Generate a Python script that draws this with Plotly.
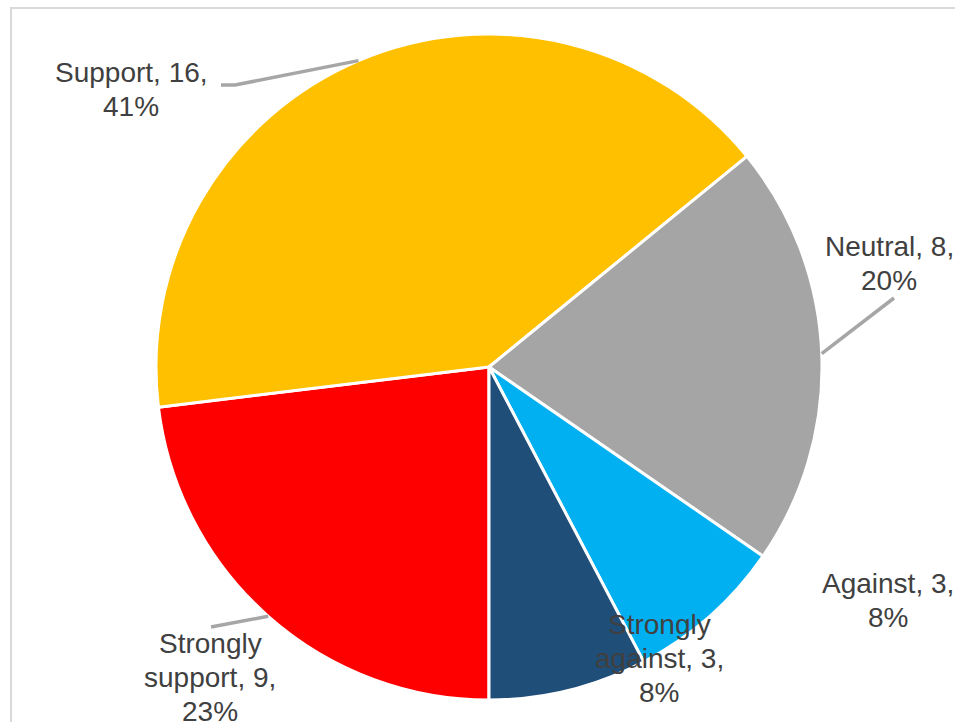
import math
import plotly.graph_objects as go

# Survey responses, drawn clockwise from the 6 o'clock position
categories = ["Strongly support", "Support", "Neutral", "Against", "Strongly against"]
counts = [9, 16, 8, 3, 3]
colors = ["#FF0000", "#FFC000", "#A5A5A5", "#00B0F0", "#1F4E79"]

W, H = 955, 722
CX, CY, R = 489, 367, 333          # pie centre and radius in pixels
START_DEG = 180                    # first slice starts at the bottom
LINE_GAP = 34                      # pixel distance between label lines
FONT = dict(family="Liberation Sans, Arial, sans-serif", size=28, color="#404040")

# Whole-number percentages that add up to 100 (largest remainder)
total = sum(counts)
raw = [c / total * 100 for c in counts]
pcts = [math.floor(v) for v in raw]
order = sorted(range(len(raw)), key=lambda i: raw[i] - pcts[i], reverse=True)
for i in order[: 100 - sum(pcts)]:
    pcts[i] += 1

# Label placement (pixel centres) and optional leader-line waypoints
label_pos = {
    "Strongly support": (210, 677),
    "Support": (131, 89),
    "Neutral": (889, 263),
    "Against": (888, 600),
    "Strongly against": (659, 658),
}
leader_pts = {
    "Strongly support": [(211, 627)],
    "Support": [(235, 85), (221, 85)],
    "Neutral": [(894, 298)],
}
label_lines = {
    "Strongly support": ["Strongly", "support, {v},", "{p}%"],
    "Support": ["Support, {v},", "{p}%"],
    "Neutral": ["Neutral, {v},", "{p}%"],
    "Against": ["Against, {v},", "{p}%"],
    "Strongly against": ["Strongly", "against, {v},", "{p}%"],
}


def px(x, y):
    return x / W, 1 - y / H


fig = go.Figure(
    go.Pie(
        labels=categories,
        values=counts,
        sort=False,
        direction="clockwise",
        rotation=START_DEG,
        marker=dict(colors=colors, line=dict(color="white", width=3)),
        textinfo="none",
        hoverinfo="label+value+percent",
        showlegend=False,
        domain=dict(x=[(CX - R) / W, (CX + R) / W], y=[1 - (CY + R) / H, 1 - (CY - R) / H]),
    )
)

shapes = [
    dict(type="rect", xref="paper", yref="paper",
         x0=11 / W, x1=1.02, y0=-0.02, y1=1 - 8 / H,
         line=dict(color="#D9D9D9", width=2), layer="below"),
]
annotations = []

angle = START_DEG
for cat, v, p in zip(categories, counts, pcts):
    span = v / total * 360
    mid = math.radians(angle + span / 2)
    angle += span
    ex, ey = CX + R * math.sin(mid), CY - R * math.cos(mid)
    if cat in leader_pts:
        pts = [(ex, ey)] + leader_pts[cat]
        path = "M " + " L ".join(f"{px(x, y)[0]:.5f},{px(x, y)[1]:.5f}" for x, y in pts)
        shapes.append(dict(type="path", xref="paper", yref="paper", path=path,
                           line=dict(color="#A6A6A6", width=3.5)))
    lines = label_lines[cat]
    cx, cy = label_pos[cat]
    for k, line in enumerate(lines):
        lx, ly = px(cx, cy + (k - (len(lines) - 1) / 2) * LINE_GAP)
        annotations.append(dict(
            x=lx, y=ly, xref="paper", yref="paper", showarrow=False,
            xanchor="center", yanchor="middle", align="center",
            text=line.format(v=v, p=p), font=FONT,
        ))

fig.update_layout(
    width=W, height=H,
    margin=dict(l=0, r=0, t=0, b=0),
    paper_bgcolor="white",
    plot_bgcolor="white",
    shapes=shapes,
    annotations=annotations,
)

fig.write_html("out.html")
